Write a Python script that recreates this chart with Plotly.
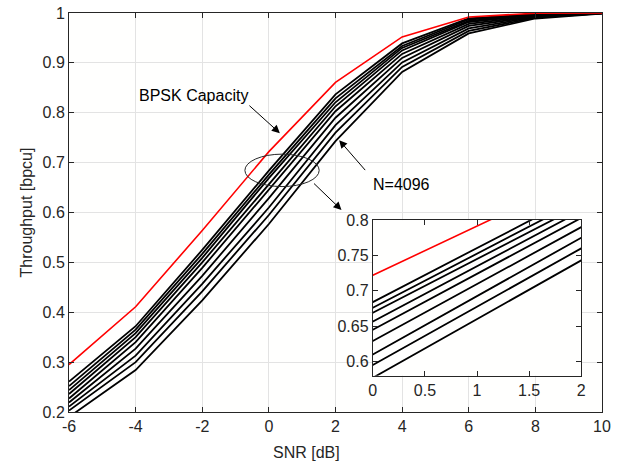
import plotly.graph_objects as go

snr = [-6, -4, -2, 0, 2, 4, 6, 8, 10]
capacity = [0.295, 0.411, 0.564, 0.722, 0.861, 0.952, 0.992, 0.9995, 1.0]

throughput_1 = [0.261, 0.372, 0.525, 0.684, 0.837, 0.939, 0.989, 0.998, 1.0]
throughput_2 = [0.252, 0.365, 0.517, 0.676, 0.829, 0.934, 0.987, 0.9973, 1.0]
throughput_3 = [0.244, 0.358, 0.509, 0.669, 0.821, 0.930, 0.984, 0.9966, 0.9999]
throughput_4 = [0.236, 0.350, 0.500, 0.657, 0.813, 0.925, 0.982, 0.9958, 0.9998]
throughput_5 = [0.227, 0.340, 0.489, 0.645, 0.803, 0.918, 0.978, 0.9948, 0.9997]
throughput_6 = [0.219, 0.327, 0.473, 0.629, 0.790, 0.910, 0.974, 0.9934, 0.9995]
throughput_7 = [0.211, 0.313, 0.457, 0.610, 0.775, 0.901, 0.969, 0.9920, 0.9993]
throughput_8 = [0.203, 0.300, 0.442, 0.595, 0.760, 0.892, 0.964, 0.9906, 0.9991]
throughput_9 = [0.190, 0.284, 0.424, 0.577, 0.743, 0.882, 0.959, 0.9890, 0.9990]
throughputs = [throughput_1, throughput_2, throughput_3, throughput_4, throughput_5,
               throughput_6, throughput_7, throughput_8, throughput_9]

x_ticks = [-6, -4, -2, 0, 2, 4, 6, 8, 10]
x_ticktext = ["-6", "-4", "-2", "0", "2", "4", "6", "8", "10"]
y_ticks = [0.2, 0.3, 0.4, 0.5, 0.6, 0.7, 0.8, 0.9, 1.0]
inset_x_ticks = [0, 0.5, 1, 1.5, 2]
inset_y_ticks = [0.6, 0.65, 0.7, 0.75, 0.8]

FONT = "Liberation Sans, Arial, Helvetica, sans-serif"
AX = "#262626"

fig = go.Figure()
for xa, ya in [("x", "y"), ("x2", "y2")]:
    for t in throughputs:
        fig.add_trace(go.Scatter(x=snr, y=t, mode="lines", xaxis=xa, yaxis=ya,
                                 line=dict(color="black", width=1.8), showlegend=False,
                                 hoverinfo="skip"))
    fig.add_trace(go.Scatter(x=snr, y=capacity, mode="lines", xaxis=xa, yaxis=ya,
                             line=dict(color="#ff0000", width=1.6), showlegend=False,
                             hoverinfo="skip"))

axis_common = dict(showline=True, linecolor=AX, linewidth=1, mirror="ticks",
                   ticks="inside", ticklen=5, tickcolor=AX, zeroline=False, automargin=False,
                   ticklabeloverflow="allow",
                   tickfont=dict(family=FONT, size=16, color=AX))

fig.update_layout(
    width=627, height=464, autosize=False,
    margin=dict(l=69, r=25, t=13, b=52),
    paper_bgcolor="white", plot_bgcolor="#fffffe",
    font=dict(family=FONT, size=16, color=AX),
    xaxis=dict(range=[-6, 10], tickvals=x_ticks, ticktext=x_ticktext, showgrid=True,
               gridcolor="#e3e3e3", domain=[0, 1], **axis_common),
    yaxis=dict(range=[0.2, 1.0], tickvals=y_ticks, showgrid=True, gridcolor="#e3e3e3",
               domain=[0, 1], **axis_common),
    xaxis2=dict(range=[0, 2], tickvals=inset_x_ticks, showgrid=False, anchor="y2",
                domain=[0.570, 0.961], **axis_common),
    yaxis2=dict(range=[0.58, 0.8], tickvals=inset_y_ticks, showgrid=False, anchor="x2",
                domain=[0.091, 0.481], **axis_common),
)

fig.add_annotation(x=0.4447, y=-0.1003, xref="paper", yref="paper", text="SNR [dB]",
                   showarrow=False, xanchor="center", yanchor="middle",
                   font=dict(family=FONT, size=16, color=AX))
fig.add_annotation(x=-0.0788, y=0.5, xref="paper", yref="paper", text="Throughput [bpcu]",
                   showarrow=False, xanchor="center", yanchor="middle", textangle=-90,
                   font=dict(family=FONT, size=16, color=AX))

fig.add_shape(type="circle", xref="x", yref="y", x0=-0.72, x1=1.51, y0=0.652, y1=0.717,
              line=dict(color=AX, width=1), layer="above")

arrow_style = dict(showarrow=True, arrowhead=2, arrowsize=1.6, arrowwidth=1,
                   arrowcolor="black", xref="x", yref="y", axref="x", ayref="y", text="")
fig.add_annotation(x=0.33, y=0.759, ax=-0.63, ay=0.817, **arrow_style)
fig.add_annotation(x=2.11, y=0.745, ax=2.93, ay=0.682, **arrow_style)
fig.add_annotation(x=2.18, y=0.605, ax=1.31, ay=0.661, **arrow_style)

fig.add_annotation(x=-2.25, y=0.835, xref="x", yref="y", text="BPSK Capacity", showarrow=False,
                   font=dict(family=FONT, size=16, color="black"))
fig.add_annotation(x=3.99, y=0.656, xref="x", yref="y", text="N=4096", showarrow=False,
                   font=dict(family=FONT, size=16, color="black"))

# remove the browser's default 8px body margin so the figure sits at the page origin
fig.write_html("out.html", config={"displayModeBar": False},
               post_script="document.body.style.margin='0';")
